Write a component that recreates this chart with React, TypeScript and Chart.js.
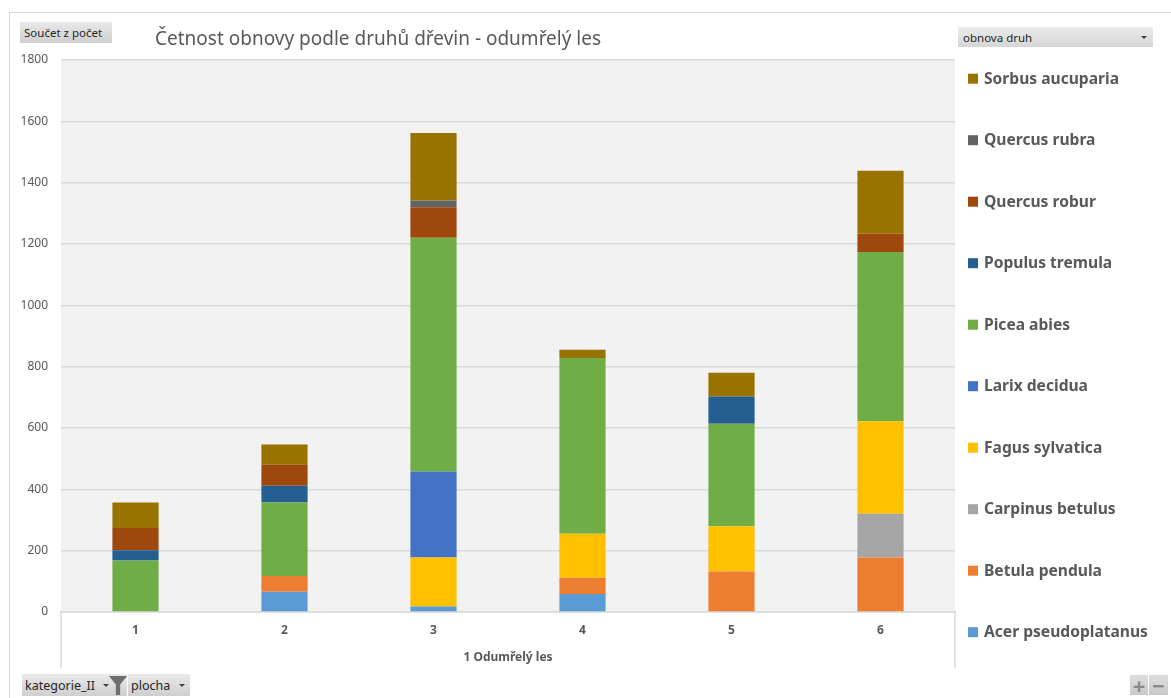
import React, { useEffect, useRef } from "react";
import { Chart, registerables } from "chart.js";

Chart.register(...registerables);

// ---- data ----
const categories = ["1", "2", "3", "4", "5", "6"];
const groupLabel = "1 Odumřelý les";
const chartTitle = "Četnost obnovy podle druhů dřevin - odumřelý les";
const yMin = 0;
const yMax = 1800;
const yStep = 200;

const speciesNames = [
  "Acer pseudoplatanus",
  "Betula pendula",
  "Carpinus betulus",
  "Fagus sylvatica",
  "Larix decidua",
  "Picea abies",
  "Populus tremula",
  "Quercus robur",
  "Quercus rubra",
  "Sorbus aucuparia",
];
const speciesColors = [
  "#5B9BD5",
  "#ED7D31",
  "#A5A5A5",
  "#FFC000",
  "#4472C4",
  "#70AD47",
  "#255E91",
  "#9E480E",
  "#636363",
  "#997300",
];

const acerPseudoplatanus = [0, 66, 18, 59, 0, 0];
const betulaPendula = [0, 51, 0, 53, 132, 178];
const carpinusBetulus = [0, 0, 0, 0, 0, 142];
const fagusSylvatica = [0, 0, 160, 143, 148, 302];
const larixDecidua = [0, 0, 280, 0, 0, 0];
const piceaAbies = [168, 240, 762, 573, 334, 552];
const populusTremula = [33, 55, 0, 0, 89, 0];
const quercusRobur = [73, 68, 100, 0, 0, 60];
const quercusRubra = [0, 0, 22, 0, 0, 0];
const sorbusAucuparia = [83, 66, 220, 27, 77, 205];

const seriesValues = [
  acerPseudoplatanus,
  betulaPendula,
  carpinusBetulus,
  fagusSylvatica,
  larixDecidua,
  piceaAbies,
  populusTremula,
  quercusRobur,
  quercusRubra,
  sorbusAucuparia,
];

const FONT = "'Noto Sans', 'DejaVu Sans', sans-serif";
const TEXT = "#595959";
const GRID = "#d9d9d9";

const decorPlugin = {
  id: "decor",
  beforeDraw(chart: any) {
    const { ctx, chartArea } = chart;
    ctx.save();
    ctx.fillStyle = "#f2f2f2";
    ctx.fillRect(chartArea.left, chartArea.top, chartArea.right - chartArea.left, chartArea.bottom - chartArea.top);
    ctx.restore();
  },
  afterDraw(chart: any) {
    const { ctx, chartArea } = chart;
    const xs = chart.scales.x;
    ctx.save();
    // multi-level axis separators
    ctx.strokeStyle = GRID;
    ctx.lineWidth = 1.5;
    ctx.beginPath();
    ctx.moveTo(chartArea.left, chartArea.bottom);
    ctx.lineTo(chartArea.left, xs.bottom);
    ctx.moveTo(chartArea.right, chartArea.bottom);
    ctx.lineTo(chartArea.right, xs.bottom);
    ctx.stroke();

    // title
    ctx.fillStyle = TEXT;
    ctx.font = `19px ${FONT}`;
    ctx.textBaseline = "middle";
    ctx.textAlign = "left";
    ctx.fillText(chartTitle, 155, 40);

    // legend (reverse order, on the right)
    const ds = chart.data.datasets;
    ctx.font = `bold 15.6px ${FONT}`;
    for (let k = 0; k < ds.length; k++) {
      const d = ds[ds.length - 1 - k];
      const y = 78.7 + k * 61.5;
      ctx.fillStyle = d.backgroundColor;
      ctx.fillRect(968, y - 5, 10, 10);
      ctx.fillStyle = TEXT;
      ctx.fillText(d.label, 984, y + 0.5);
    }
    ctx.restore();
  },
};

const btnBase: React.CSSProperties = {
  position: "absolute",
  boxSizing: "border-box",
  background: "linear-gradient(#e9e9e9, #cfcfcf)",
  fontFamily: FONT,
  fontSize: 11.5,
  color: "#262626",
  display: "flex",
  alignItems: "center",
  whiteSpace: "nowrap",
};

const Arrow = ({ left }: { left: number }) => (
  <div
    style={{
      position: "absolute",
      left,
      top: "50%",
      marginTop: -1,
      width: 0,
      height: 0,
      borderLeft: "3px solid transparent",
      borderRight: "3px solid transparent",
      borderTop: "3px solid #404040",
    }}
  />
);

export default function App() {
  const canvasRef = useRef<HTMLCanvasElement | null>(null);

  useEffect(() => {
    if (!canvasRef.current) return;
    const chart = new Chart(canvasRef.current, {
      type: "bar",
      data: {
        labels: categories,
        datasets: speciesNames.map((name, i) => ({
          label: name,
          data: seriesValues[i],
          backgroundColor: speciesColors[i],
          borderWidth: 0,
          barPercentage: 0.31,
          categoryPercentage: 1,
        })),
      },
      options: {
        responsive: false,
        animation: false,
        devicePixelRatio: 1,
        layout: { padding: { left: 0, top: 60, right: 216, bottom: 30 } },
        plugins: {
          legend: { display: false },
          title: { display: false },
          tooltip: { enabled: false },
        },
        scales: {
          x: {
            stacked: true,
            grid: { display: false, drawTicks: false },
            border: { display: true, color: GRID, width: 1.5 },
            ticks: {
              color: TEXT,
              font: { family: FONT, size: 12, weight: "bold" },
              padding: 11,
            },
            title: {
              display: true,
              text: groupLabel,
              color: TEXT,
              font: { family: FONT, size: 12, weight: "bold" },
              padding: { top: 0, bottom: 3 },
            },
            afterFit(scale: any) {
              scale.height = 56;
            },
          },
          y: {
            stacked: true,
            min: yMin,
            max: yMax,
            grid: { color: GRID, lineWidth: 1.5, drawTicks: false },
            border: { display: false },
            ticks: {
              stepSize: yStep,
              color: TEXT,
              font: { family: FONT, size: 12 },
              padding: 13,
              callback: (v: any) => String(v),
            },
            afterFit(scale: any) {
              scale.width = 61;
            },
          },
        },
      },
      plugins: [decorPlugin],
    });
    return () => chart.destroy();
  }, []);

  return (
    <div style={{ position: "absolute", left: 0, top: 0, width: 1171, height: 698, background: "#fff", overflow: "hidden" }}>
      <div
        style={{
          position: "absolute",
          left: 9,
          top: 12,
          width: 1171,
          height: 700,
          borderLeft: `1px solid ${GRID}`,
          borderTop: `1px solid ${GRID}`,
        }}
      />
      <canvas ref={canvasRef} width={1171} height={698} style={{ position: "absolute", left: 0, top: 0 }} />
      {/* field buttons */}
      <div style={{ ...btnBase, left: 20, top: 22, width: 92, height: 21, paddingLeft: 4 }}>Součet z počet</div>
      <div
        style={{
          ...btnBase,
          left: 958,
          top: 27,
          width: 195,
          height: 20,
          paddingLeft: 5,
          background: "linear-gradient(#ececec, #d6d6d6)",
        }}
      >
        obnova druh
        <Arrow left={183} />
      </div>
      <div style={{ ...btnBase, left: 22, top: 674, width: 105, height: 22, paddingLeft: 3, fontSize: 12.5 }}>
        kategorie_II
        <Arrow left={81} />
        <div
          style={{
            position: "absolute",
            left: 87,
            top: 2,
            width: 18,
            height: 19,
            background: "#6e6e6e",
            clipPath: "polygon(0 0, 100% 0, 62% 45%, 62% 100%, 38% 100%, 38% 45%)",
          }}
        />
      </div>
      <div style={{ ...btnBase, left: 128, top: 674, width: 62, height: 22, paddingLeft: 3, fontSize: 12.5 }}>
        plocha
        <Arrow left={51} />
      </div>
      {/* zoom buttons */}
      <div
        style={{
          ...btnBase,
          left: 1130,
          top: 675,
          width: 18,
          height: 20,
          justifyContent: "center",
          fontSize: 22,
          fontWeight: "bold",
          color: "#8a8a8a",
          background: "linear-gradient(#dedede, #c9c9c9)",
        }}
      >
        +
      </div>
      <div
        style={{
          ...btnBase,
          left: 1149,
          top: 675,
          width: 19,
          height: 20,
          justifyContent: "center",
          fontSize: 22,
          fontWeight: "bold",
          color: "#8a8a8a",
          background: "linear-gradient(#dedede, #c9c9c9)",
        }}
      >
        −
      </div>
    </div>
  );
}
